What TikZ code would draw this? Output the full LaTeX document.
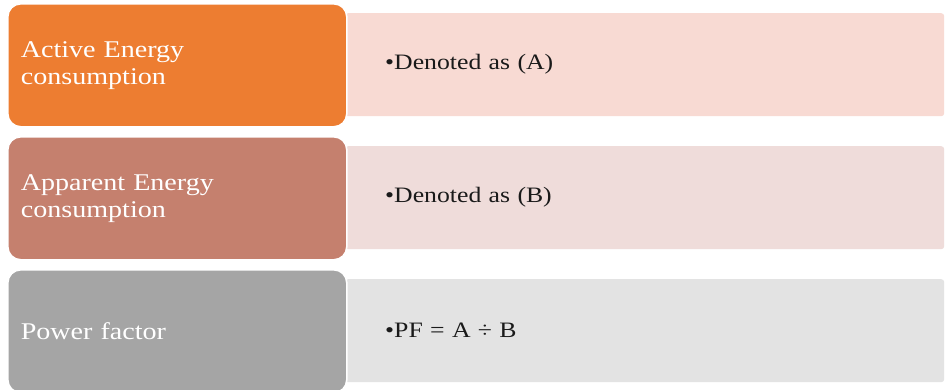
\documentclass[tikz,border=0pt]{standalone}
\usepackage{fontspec}
\setmainfont[FakeStretch=1.17]{Liberation Serif}
\definecolor{oA}{HTML}{ED7D31}
\definecolor{pA}{HTML}{F8DAD3}
\definecolor{oB}{HTML}{C5806E}
\definecolor{pB}{HTML}{EFDCDA}
\definecolor{oC}{HTML}{A5A5A5}
\definecolor{pC}{HTML}{E3E3E3}
\definecolor{txt}{HTML}{1A1A1A}
\tikzset{
  headbox/.style={rectangle, rounded corners=13pt, draw=white, line width=1.6pt,
    anchor=north west, minimum width=339pt, minimum height=123pt,
    inner xsep=13pt, text width=313pt, align=left, text=white,
    font=\fontsize{24}{27}\selectfont},
  infobox/.style={rectangle, rounded corners=3pt, anchor=north west,
    minimum width=599pt, minimum height=103pt, inner xsep=40pt,
    text width=519pt, align=left, text=txt,
    font=\fontsize{22}{26}\selectfont}
}
\begin{document}
\begin{tikzpicture}[x=1pt,y=-1pt]
\useasboundingbox (0,0) rectangle (945,389);
\clip (0,0) rectangle (945,389);
\fill[white] (0,0) rectangle (945,389);
% row 1
\node[infobox, fill=pA] (r1) at (345,13) {•Denoted as (A)};
\node[headbox, fill=oA] (l1) at (7,3) {Active Energy\\consumption};
% row 2
\node[infobox, fill=pB] (r2) at (345,146) {•Denoted as (B)};
\node[headbox, fill=oB] (l2) at (7,136) {Apparent Energy\\consumption};
% row 3
\node[infobox, fill=pC] (r3) at (345,279) {•PF = A ÷ B};
\node[headbox, fill=oC] (l3) at (7,269) {Power factor};
\end{tikzpicture}
\end{document}
